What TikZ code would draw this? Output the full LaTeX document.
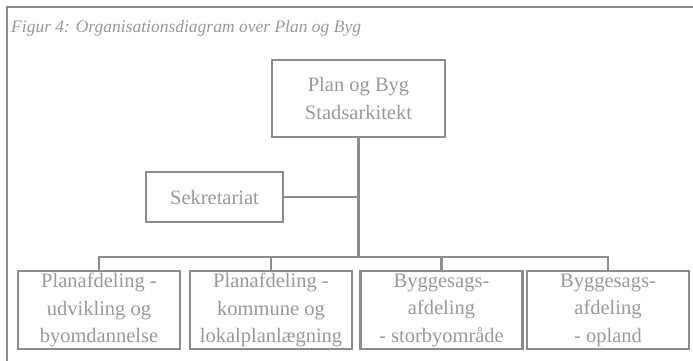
\documentclass[tikz,border=0pt]{standalone}
\usepackage{fontspec}
\setmainfont{Liberation Serif}
\usetikzlibrary{positioning}
\definecolor{linegray}{HTML}{8C8C8C}
\definecolor{textgray}{HTML}{999999}
\begin{document}
\begin{tikzpicture}[x=1pt,y=-1pt]
        % Define styles for the boxes
        \tikzstyle{unit}=[draw=linegray,line width=2.5pt,text=textgray,align=center,font=\fontsize{20.5}{27.5}\selectfont,inner sep=1pt]
        \tikzstyle{dept}=[unit,minimum width=162pt,minimum height=78pt]
        \tikzstyle{link}=[draw=linegray,line width=2.5pt]

        \useasboundingbox (0,0) rectangle (693,361);

        % Frame and caption
        \draw[link] (7,361) -- (7,7) -- (693,7);
        \node[anchor=west,inner sep=0pt,text=textgray,font=\fontsize{17.5}{20}\selectfont\itshape] (caption) at (11,28) {Figur 4: Organisationsdiagram over Plan og Byg};

        % Top of the organisation
        \node[unit,minimum width=173pt,minimum height=77pt] (chief) at (358.5,98.5) {Plan og Byg\\Stadsarkitekt};
        \node[unit,minimum width=137pt,minimum height=50pt] (secr) at (214.5,197) {Sekretariat};

        % The four departments
        \node[dept] (dept1) at (99,310) {Planafdeling -\\udvikling og\\byomdannelse};
        \node[dept] (dept2) at (271,310) {Planafdeling -\\kommune og\\lokalplanlægning};
        \node[dept] (dept3) at (441.5,310) {Byggesags-\\afdeling\\- storbyområde};
        \node[dept] (dept4) at (608,310) {Byggesags-\\afdeling\\- opland};

        % Connect the boxes
        \coordinate (bus) at (chief.south |- 0,257);
        \draw[link] (chief.south) -- (bus);
        \draw[link] (secr.east) -- (secr.east -| chief.south);
        \draw[link] (dept1.north) |- (bus) -| (dept4.north);
        \draw[link] (dept2.north) -- (dept2.north |- bus);
        \draw[link] (dept3.north) -- (dept3.north |- bus);
\end{tikzpicture}
\end{document}
